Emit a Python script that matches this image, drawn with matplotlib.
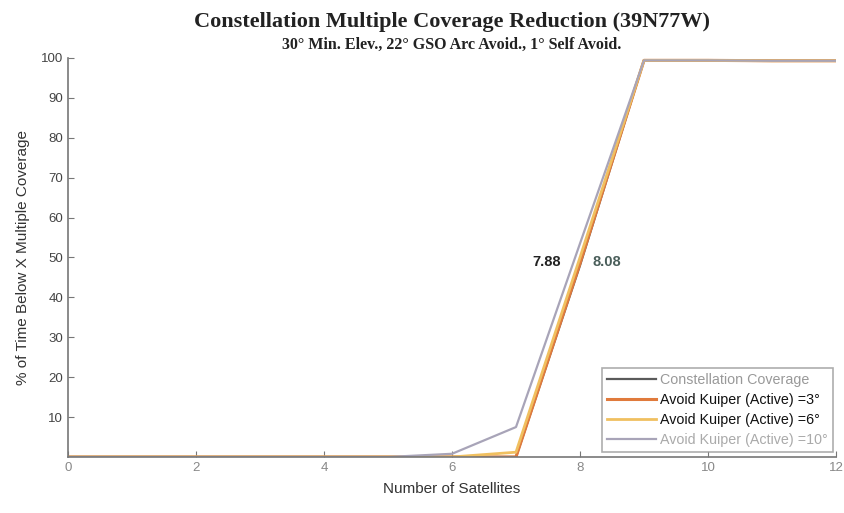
import matplotlib.pyplot as plt

# Number of satellites in view
sats = [0, 1, 2, 3, 4, 5, 6, 7, 8, 9, 10, 11, 12]

# % of time below X multiple coverage
constellation = [0, 0, 0, 0, 0, 0, 0, 0, 48, 99.4, 99.4, 99.3, 99.3]
avoid_3 = [0, 0, 0, 0, 0, 0, 0, 0, 48.5, 99.4, 99.4, 99.3, 99.3]
avoid_6 = [0, 0, 0, 0, 0, 0, 0, 1.2, 50, 99.4, 99.4, 99.3, 99.3]
avoid_10 = [0, 0, 0, 0, 0, 0, 0.8, 7.5, 53.5, 99.4, 99.4, 99.3, 99.3]

# 50% crossing points
cross_10 = 7.88
cross_3 = 8.08

plt.rcParams['font.family'] = ['Liberation Sans', 'DejaVu Sans']

fig = plt.figure(figsize=(8.44, 5.13), dpi=100)
ax = fig.add_axes([0.0806, 0.1092, 0.9099, 0.7778])

ax.plot(sats, constellation, color='#5a5a5a', lw=1.6, label='Constellation Coverage')
ax.plot(sats, avoid_3, color='#e07a3c', lw=2.2, label='Avoid Kuiper (Active) =3°')
ax.plot(sats, avoid_6, color='#f0c060', lw=2.0, label='Avoid Kuiper (Active) =6°')
ax.plot(sats, avoid_10, color='#a8a4b8', lw=1.6, label='Avoid Kuiper (Active) =10°')

ax.text(cross_10 - 0.4, 48.8, f'{cross_10:.2f}', ha='center', va='center',
        fontsize=10.5, fontweight='bold', color='#222222')
ax.text(cross_3 + 0.34, 48.8, f'{cross_3:.2f}', ha='center', va='center',
        fontsize=10.5, fontweight='bold', color='#4a5e5a')

ax.set_xlim(0, 12)
ax.set_ylim(0, 100)
ax.set_xticks(range(0, 13, 2))
ax.set_yticks(range(10, 101, 10))
ax.spines['top'].set_visible(False)
ax.spines['right'].set_visible(False)
for s in ('left', 'bottom'):
    ax.spines[s].set_color('#777777')
    ax.spines[s].set_linewidth(1.2)
ax.tick_params(direction='in', length=4, colors='#777777', labelsize=9.5,
               labelcolor='#444444')
ax.tick_params(axis='x', labelcolor='#888888')

ax.set_xlabel('Number of Satellites', fontsize=11, color='#333333', labelpad=6)
ax.set_ylabel('% of Time Below X Multiple Coverage', fontsize=11, color='#333333',
              labelpad=8)

leg = ax.legend(loc='lower right', fontsize=10.3, frameon=True, fancybox=False,
                handlelength=3.4, handletextpad=0.3, borderpad=0.35,
                labelspacing=0.42, borderaxespad=0.0,
                bbox_to_anchor=(0.996, 0.012))
leg.get_frame().set_edgecolor('#999999')
leg.get_frame().set_linewidth(1.2)
for t, c in zip(leg.get_texts(), ['#999999', '#111111', '#111111', '#aaaaaa']):
    t.set_color(c)

# titles centred over the axes
xc = 0.0806 + 0.9099 / 2
fig.text(xc, 0.947, 'Constellation Multiple Coverage Reduction (39N77W)',
         ha='center', va='baseline', fontsize=16, fontweight='bold',
         family='Liberation Serif', color='#222222')
fig.text(xc, 0.9045, '30° Min. Elev., 22° GSO Arc Avoid., 1° Self Avoid.',
         ha='center', va='baseline', fontsize=11.5, fontweight='bold',
         family='Liberation Serif', color='#222222')

fig.savefig('out.png', dpi=100)
